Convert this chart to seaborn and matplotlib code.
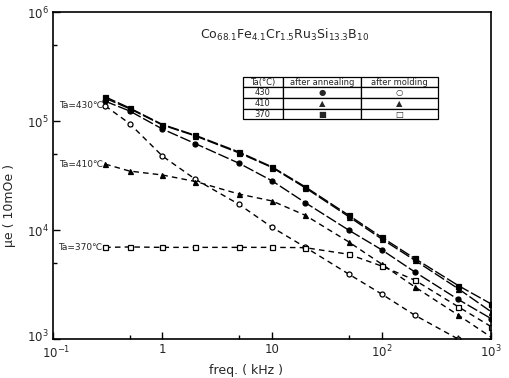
import numpy as np
import pandas as pd
import seaborn as sns
import matplotlib
matplotlib.use("Agg")
import matplotlib.pyplot as plt
import matplotlib.transforms as mtransforms
from matplotlib.ticker import LogLocator, FixedLocator, NullFormatter

# measurement frequencies (kHz)
freq = [0.3, 0.5, 1, 2, 5, 10, 20, 50, 100, 200, 500, 1000]

# effective permeability (units of 10 mOe scale)
ann_430 = [1.52e5, 1.24e5, 8.45e4, 6.2e4, 4.1e4, 2.83e4, 1.79e4, 1.0e4, 6.6e3, 4.14e3, 2.31e3, 1.54e3]
ann_410 = [1.62e5, 1.30e5, 9.2e4, 7.3e4, 5.1e4, 3.75e4, 2.45e4, 1.33e4, 8.3e3, 5.3e3, 2.9e3, 1.78e3]
ann_370 = [1.67e5, 1.32e5, 9.3e4, 7.4e4, 5.2e4, 3.8e4, 2.5e4, 1.37e4, 8.6e3, 5.5e3, 3.1e3, 2.1e3]
mold_430 = [1.38e5, 9.5e4, 4.77e4, 2.92e4, 1.72e4, 1.06e4, 6.98e3, 3.95e3, 2.59e3, 1.66e3, 1.0e3]
mold_410 = [4.03e4, 3.48e4, 3.2e4, 2.79e4, 2.14e4, 1.85e4, 1.37e4, 7.8e3, 4.88e3, 3.02e3, 1.66e3, 1.04e3]
mold_370 = [6.94e3, 7.0e3, 6.94e3, 6.94e3, 6.94e3, 6.94e3, 6.9e3, 6.0e3, 4.68e3, 3.48e3, 1.98e3, 1.3e3]

ta_labels = ["Ta=430\u2103", "Ta=410\u2103", "Ta=370\u2103"]
table_rows = [["Ta(\u00b0C)", "after annealing", "after molding"],
              ["430", "\u25cf", "\u25cb"],
              ["410", "\u25b2", "\u25b2"],
              ["370", "\u25a0", "\u25a1"]]
title = r"Co$_{68.1}$Fe$_{4.1}$Cr$_{1.5}$Ru$_{3}$Si$_{13.3}$B$_{10}$"

sns.set_style("ticks")
plt.rcParams["font.family"] = ["DejaVu Sans"]

fig = plt.figure(figsize=(5.09, 3.78), dpi=100)
ax = fig.add_axes([0.104, 0.103, 0.861, 0.865])

ann_ls = (0, (8, 2))
mold_ls = (0, (4, 3))

series = [
    (ann_370, ann_ls, "s", "black"),
    (ann_410, ann_ls, "^", "black"),
    (ann_430, ann_ls, "o", "black"),
    (mold_430, mold_ls, "o", "white"),
    (mold_410, mold_ls, "^", "black"),
    (mold_370, mold_ls, "s", "white"),
]
for vals, ls, mk, fc in series:
    sns.lineplot(x=freq[:len(vals)], y=vals, ax=ax, color="black", lw=1.0,
                 linestyle=ls, marker=mk, markersize=3.6,
                 markerfacecolor=fc, markeredgecolor="black",
                 markeredgewidth=0.9)

ax.set_xscale("log")
ax.set_yscale("log")
ax.set_xlim(0.1, 1000)
ax.set_ylim(1e3, 1e6)

ax.xaxis.set_major_locator(FixedLocator([0.1, 1, 10, 100, 1000]))
ax.set_xticklabels([r"$10^{-1}$", "1", "10", r"$10^{2}$", r"$10^{3}$"])
ax.yaxis.set_major_locator(FixedLocator([1e3, 1e4, 1e5, 1e6]))
ax.set_yticklabels([r"$10^{3}$", r"$10^{4}$", r"$10^{5}$", r"$10^{6}$"])
ax.xaxis.set_minor_locator(LogLocator(base=10, subs=[5]))
ax.yaxis.set_minor_locator(LogLocator(base=10, subs=[5]))
ax.xaxis.set_minor_formatter(NullFormatter())
ax.yaxis.set_minor_formatter(NullFormatter())
ax.tick_params(which="both", direction="in", labelsize=8.5, color="black",
               width=1.0)
ax.tick_params(which="major", length=5)
ax.tick_params(which="minor", length=3)
ax.tick_params(axis="x", pad=3)
ax.tick_params(axis="y", pad=3)
for sp in ax.spines.values():
    sp.set_linewidth(1.2)
    sp.set_color("black")

# keep the corner tick labels apart
lab_y0 = ax.get_yticklabels()[0]
lab_y0.set_transform(lab_y0.get_transform() +
                     mtransforms.ScaledTranslation(0, 2.5 / 72, fig.dpi_scale_trans))
lab_x0 = ax.get_xticklabels()[0]
lab_x0.set_transform(lab_x0.get_transform() +
                     mtransforms.ScaledTranslation(2.5 / 72, -1 / 72, fig.dpi_scale_trans))

ax.set_xlabel("freq. ( kHz )", fontsize=9)
ax.xaxis.set_label_coords(0.44, -0.075)
ax.set_ylabel("\u03bce ( 10mOe )", fontsize=9)
ax.yaxis.set_label_coords(-0.085, 0.41)

# annealing temperature labels at the left end of the molding curves
for lab, vals in zip(ta_labels, [mold_430, mold_410, mold_370]):
    ax.text(0.285, vals[0], lab, ha="right", va="center", fontsize=6.5)

ax.text(0.335, 0.93, title, transform=ax.transAxes, fontsize=9,
        ha="left", va="center")

tbl = ax.table(cellText=table_rows, cellLoc="center",
               colWidths=[0.205, 0.40, 0.395],
               bbox=[0.433, 0.672, 0.446, 0.130])
tbl.auto_set_font_size(False)
tbl.set_fontsize(6)
for cell in tbl.get_celld().values():
    cell.set_linewidth(0.9)
    cell.set_edgecolor("black")
    cell.set_facecolor("white")

fig.savefig("out.png", dpi=100)
